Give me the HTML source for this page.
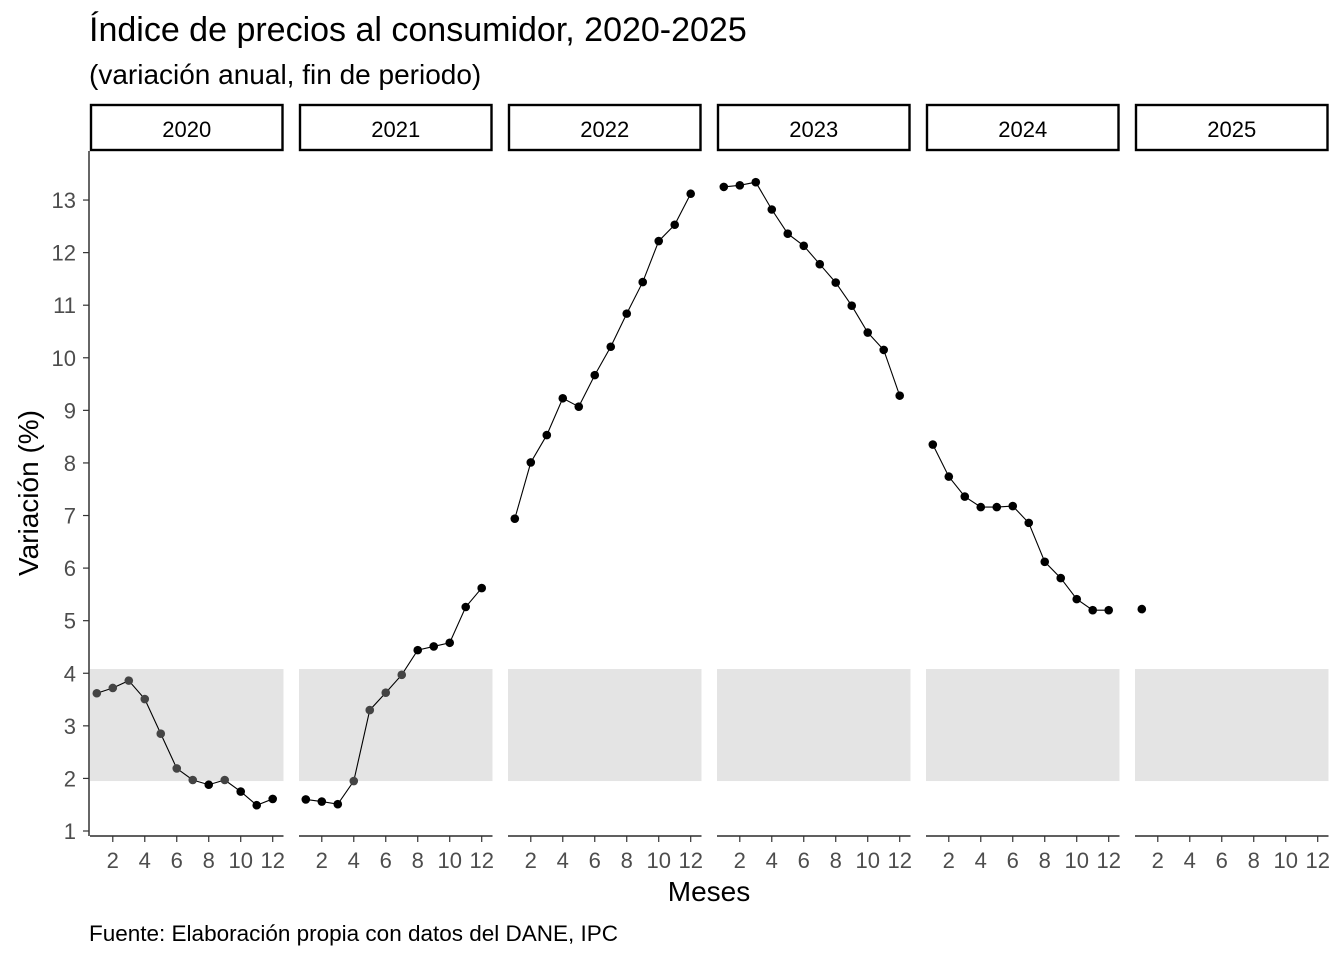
<!DOCTYPE html>
<html><head><meta charset="utf-8"><style>
body{margin:0;background:#fff;}
svg{display:block;font-family:"Liberation Sans",Arial,sans-serif;}
</style></head><body>
<svg id="chart" width="1344" height="960" viewBox="0 0 1344 960" xmlns="http://www.w3.org/2000/svg">
<text x="89" y="41" font-size="34" fill="#000">Índice de precios al consumidor, 2020-2025</text>
<text x="89" y="84" font-size="28" fill="#000">(variación anual, fin de periodo)</text>
<text x="709" y="901" font-size="28" text-anchor="middle">Meses</text>
<text transform="translate(38,493) rotate(-90)" font-size="28" text-anchor="middle">Variación (%)</text>
<text x="89" y="941" font-size="22.5">Fuente: Elaboración propia con datos del DANE, IPC</text>
<g id="plot"></g>
</svg>
<script>
const years = ["2020","2021","2022","2023","2024","2025"];
const s2020 = [3.62,3.72,3.86,3.51,2.85,2.19,1.97,1.88,1.97,1.75,1.49,1.61];
const s2021 = [1.60,1.56,1.51,1.95,3.30,3.63,3.97,4.44,4.51,4.58,5.26,5.62];
const s2022 = [6.94,8.01,8.53,9.23,9.07,9.67,10.21,10.84,11.44,12.22,12.53,13.12];
const s2023 = [13.25,13.28,13.34,12.82,12.36,12.13,11.78,11.43,10.99,10.48,10.15,9.28];
const s2024 = [8.35,7.74,7.36,7.16,7.16,7.18,6.86,6.12,5.81,5.41,5.20,5.20];
const s2025 = [5.22];
const yTicks = [1,2,3,4,5,6,7,8,9,10,11,12,13];
const xTicks = [2,4,6,8,10,12];
const bandLow = 1.95, bandHigh = 4.08;

const series=[s2020,s2021,s2022,s2023,s2024,s2025];
const NS="http://www.w3.org/2000/svg";
const g=document.getElementById('plot');
function mk(t,a,p){const e=document.createElementNS(NS,t);for(const k in a)e.setAttribute(k,a[k]);(p||g).appendChild(e);return e;}
const plotTop=151,plotBottom=836;
function y(v){return 831-(v-1)*52.58;}
const panelLefts=[90,299,508,717,926,1135];const pw=193.5;
function x(p,m){return panelLefts[p]-2+(m-0.45)/12.1*pw;}
const ax=mk('line',{x1:89,x2:89,y1:plotTop,y2:plotBottom,stroke:'#000','stroke-width':1.2});


yTicks.forEach(v=>{
  const t=mk('line',{x1:83,x2:89,y1:y(v),y2:y(v),stroke:'#333','stroke-width':1.2});
  
  
  const l=mk('text',{x:76,y:y(v)+8,'font-size':22,fill:'#4d4d4d','text-anchor':'end'});l.textContent=v;
  
  
});
years.forEach((yr,p)=>{
  const L=panelLefts[p];
  const strip=mk('rect',{x:L+1,y:105,width:pw-2,height:45,fill:'#fff',stroke:'#000','stroke-width':2.4});
  
  
  const st=mk('text',{x:L+pw/2,y:137,'font-size':22,'text-anchor':'middle'});st.textContent=yr;
  
  
  const band=mk('rect',{x:L,y:y(bandHigh),width:pw,height:y(bandLow)-y(bandHigh),fill:'#e4e4e4'});
  
  
  const xl=mk('line',{x1:L,x2:L+pw,y1:plotBottom,y2:plotBottom,stroke:'#000','stroke-width':1.2});
  
  
  xTicks.forEach(m=>{
    const t=mk('line',{x1:x(p,m),x2:x(p,m),y1:plotBottom,y2:plotBottom+6,stroke:'#333','stroke-width':1.2});
    
    
    const l=mk('text',{x:x(p,m),y:868,'font-size':22,fill:'#4d4d4d','text-anchor':'middle'});l.textContent=m;
    
    
  });
  const s=series[p];
  if(s.length>1){
    const ln=mk('polyline',{points:s.map((v,i)=>x(p,i+1)+','+y(v)).join(' '),fill:'none',stroke:'#000','stroke-width':1.1});
    
    
  }
  s.forEach((v,i)=>{
    const c=mk('circle',{cx:x(p,i+1),cy:y(v),r:4.3,fill:(v>=bandLow&&v<=bandHigh)?'#444':'#000'});
    
    
  });
});
</script>
</body></html>
